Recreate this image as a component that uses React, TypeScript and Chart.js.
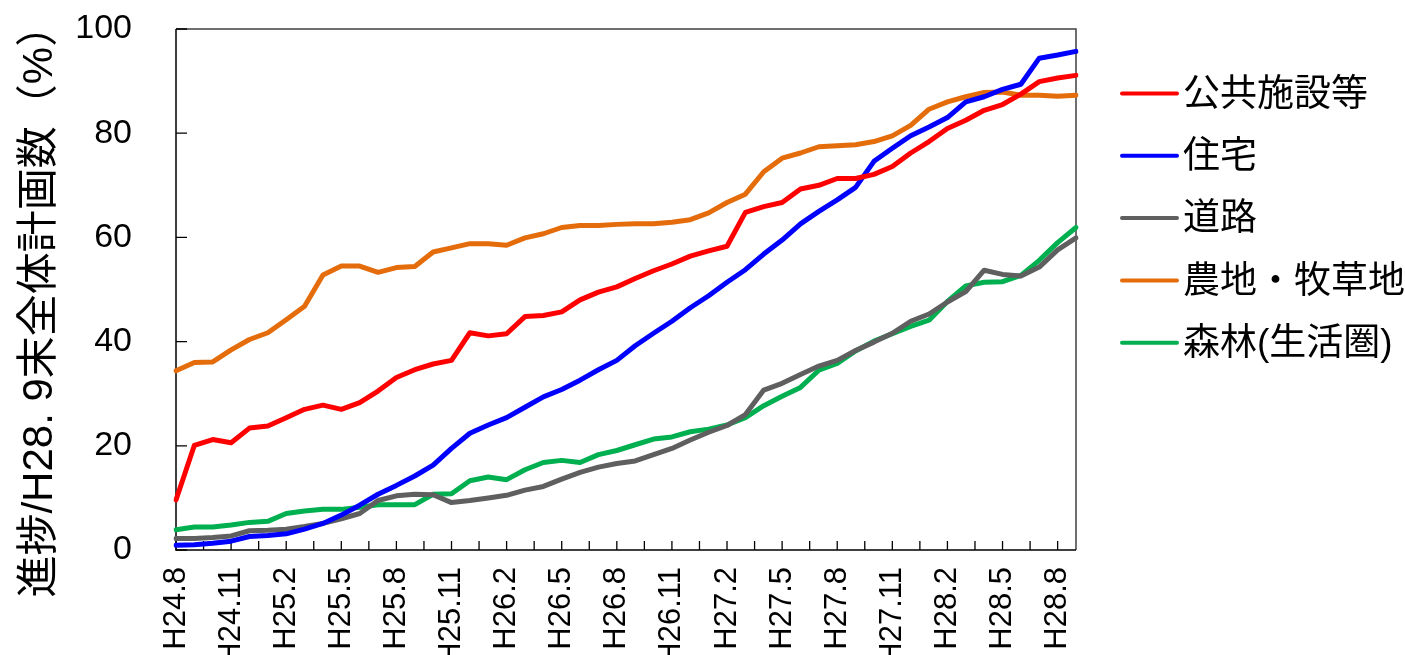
import React, { useEffect, useRef } from "react";
import { Chart, registerables } from "chart.js";

Chart.register(...registerables);

const months = [
  "H24.8", "H24.9", "H24.10", "H24.11", "H24.12",
  "H25.1", "H25.2", "H25.3", "H25.4", "H25.5", "H25.6", "H25.7", "H25.8", "H25.9", "H25.10", "H25.11", "H25.12",
  "H26.1", "H26.2", "H26.3", "H26.4", "H26.5", "H26.6", "H26.7", "H26.8", "H26.9", "H26.10", "H26.11", "H26.12",
  "H27.1", "H27.2", "H27.3", "H27.4", "H27.5", "H27.6", "H27.7", "H27.8", "H27.9", "H27.10", "H27.11", "H27.12",
  "H28.1", "H28.2", "H28.3", "H28.4", "H28.5", "H28.6", "H28.7", "H28.8", "H28.9",
];

const publicFacilities = [
  9.6, 20.1, 21.2, 20.6, 23.4, 23.8, 25.4, 27.0, 27.8, 27.0,
  28.3, 30.5, 33.1, 34.6, 35.7, 36.4, 41.7, 41.1, 41.5, 44.8,
  45.0, 45.7, 48.0, 49.5, 50.5, 52.1, 53.6, 54.9, 56.4, 57.4,
  58.3, 64.8, 65.9, 66.7, 69.3, 70.0, 71.3, 71.3, 72.1, 73.6,
  76.2, 78.4, 80.9, 82.5, 84.4, 85.5, 87.5, 89.9, 90.6, 91.1,
];

const housing = [
  0.9, 1.0, 1.3, 1.7, 2.6, 2.8, 3.1, 4.0, 5.1, 6.7,
  8.6, 10.7, 12.4, 14.2, 16.3, 19.5, 22.4, 24.0, 25.4, 27.4,
  29.4, 30.8, 32.6, 34.6, 36.4, 39.2, 41.6, 43.9, 46.5, 48.8,
  51.4, 53.8, 56.8, 59.5, 62.6, 65.0, 67.2, 69.6, 74.6, 77.1,
  79.5, 81.2, 83.0, 86.0, 87.0, 88.4, 89.4, 94.4, 95.0, 95.7,
];

const roads = [
  2.2, 2.2, 2.4, 2.7, 3.7, 3.8, 4.0, 4.5, 5.1, 6.0,
  7.0, 9.5, 10.4, 10.7, 10.6, 9.1, 9.5, 10.0, 10.5, 11.5,
  12.2, 13.6, 14.9, 15.9, 16.6, 17.1, 18.3, 19.5, 21.1, 22.6,
  23.9, 26.0, 30.7, 32.0, 33.7, 35.3, 36.4, 38.3, 39.9, 41.6,
  43.9, 45.3, 47.6, 49.6, 53.7, 52.9, 52.6, 54.3, 57.6, 59.9,
];

const farmland = [
  34.4, 36.0, 36.1, 38.4, 40.4, 41.7, 44.2, 46.8, 52.8, 54.5,
  54.5, 53.3, 54.2, 54.4, 57.2, 58.0, 58.8, 58.8, 58.5, 59.9,
  60.7, 61.9, 62.3, 62.3, 62.5, 62.6, 62.6, 62.9, 63.4, 64.7,
  66.7, 68.3, 72.6, 75.2, 76.2, 77.4, 77.6, 77.8, 78.4, 79.5,
  81.5, 84.6, 86.0, 87.0, 87.8, 87.9, 87.3, 87.3, 87.1, 87.3,
];

const forest = [
  3.9, 4.4, 4.4, 4.8, 5.3, 5.5, 7.0, 7.5, 7.8, 7.8,
  8.2, 8.7, 8.7, 8.7, 10.7, 10.8, 13.3, 14.0, 13.5, 15.4,
  16.8, 17.2, 16.8, 18.3, 19.1, 20.2, 21.3, 21.7, 22.7, 23.2,
  24.0, 25.4, 27.7, 29.5, 31.2, 34.5, 35.8, 38.2, 40.1, 41.5,
  42.9, 44.1, 47.7, 50.7, 51.4, 51.5, 52.7, 55.6, 59.0, 61.9,
];

const seriesNames = ["公共施設等", "住宅", "道路", "農地・牧草地", "森林(生活圏)"];
const seriesValues = [publicFacilities, housing, roads, farmland, forest];
const seriesColors = ["#FF0000", "#0000FF", "#5F5F5F", "#E46C0A", "#00B050"];

const yTicks = [0, 20, 40, 60, 80, 100];
const xTickMarkStep = 1.5;
const yTitle = "進捗/H28. 9末全体計画数（%）  ";

const LATIN = "'Liberation Sans', Arial, 'Noto Sans CJK JP', sans-serif";
const CJK = "'Liberation Sans', 'Noto Sans CJK JP', sans-serif";

const framePlugin = {
  id: "frameAndTicks",
  beforeDatasetsDraw(chart: any) {
    const { ctx, chartArea } = chart;
    const { left, right, top, bottom } = chartArea;
    const xs = chart.scales.x;
    const ys = chart.scales.y;
    ctx.save();
    ctx.lineWidth = 1.5;
    ctx.strokeStyle = "#404040";
    ctx.beginPath();
    ctx.moveTo(left, top);
    ctx.lineTo(right, top);
    ctx.lineTo(right, bottom);
    ctx.stroke();
    ctx.strokeStyle = "#000000";
    ctx.beginPath();
    ctx.moveTo(left, top);
    ctx.lineTo(left, bottom);
    ctx.lineTo(right, bottom);
    ctx.stroke();
    ctx.lineWidth = 1.3;
    ctx.beginPath();
    const maxIdx = months.length - 1;
    for (let v = 0; v <= maxIdx + 1e-6; v += xTickMarkStep) {
      const px = xs.getPixelForValue(v);
      ctx.moveTo(px, bottom);
      ctx.lineTo(px, bottom - 9);
    }
    for (const t of yTicks) {
      const py = ys.getPixelForValue(t);
      ctx.moveTo(left, py);
      ctx.lineTo(left + 11, py);
    }
    ctx.stroke();
    ctx.restore();
  },
  afterDraw(chart: any) {
    const { ctx, chartArea } = chart;
    ctx.save();
    const x0 = chartArea.right + 46;
    const x1 = x0 + 55;
    chart.data.datasets.forEach((ds: any, i: number) => {
      const y = chartArea.top + 64.5 + i * 62.3;
      ctx.strokeStyle = ds.borderColor;
      ctx.lineWidth = 4;
      ctx.lineCap = "round";
      ctx.beginPath();
      ctx.moveTo(x0, y);
      ctx.lineTo(x1, y);
      ctx.stroke();
      ctx.fillStyle = "#000000";
      ctx.font = `37px ${CJK}`;
      ctx.textAlign = "left";
      ctx.textBaseline = "middle";
      ctx.fillText(ds.label, x1 + 6, y + 2);
    });
    ctx.restore();
  },
};

export default function App() {
  const canvasRef = useRef<HTMLCanvasElement | null>(null);

  useEffect(() => {
    document.body.style.margin = "0";
    const canvas = canvasRef.current;
    if (!canvas) return;
    const chart = new Chart(canvas, {
      type: "line",
      data: {
        labels: months,
        datasets: seriesNames.map((name, i) => ({
          label: name,
          data: seriesValues[i],
          borderColor: seriesColors[i],
          backgroundColor: seriesColors[i],
          borderWidth: 5,
          pointRadius: 0,
          tension: 0,
          borderJoinStyle: "round" as const,
          borderCapStyle: "round" as const,
          fill: false,
        })),
      },
      options: {
        animation: false,
        responsive: true,
        maintainAspectRatio: false,
        layout: { padding: { top: 29, right: 329, left: 0, bottom: 0 } },
        plugins: {
          legend: { display: false },
          tooltip: { enabled: false },
        },
        scales: {
          x: {
            type: "category",
            offset: false,
            grid: { display: false, drawTicks: false },
            border: { display: false },
            ticks: {
              autoSkip: false,
              maxRotation: 90,
              minRotation: 90,
              padding: 17,
              color: "#000000",
              font: { family: LATIN, size: 31 },
              callback: (_v: any, idx: number) => (idx % 3 === 0 ? months[idx] : ""),
            },
            afterFit: (s: any) => {
              s.height = 105;
            },
          },
          y: {
            min: 0,
            max: 100,
            grid: { display: false, drawTicks: false },
            border: { display: false },
            ticks: {
              stepSize: 20,
              padding: 44,
              color: "#000000",
              font: { family: LATIN, size: 34 },
            },
            title: {
              display: true,
              text: yTitle,
              color: "#000000",
              font: { family: CJK, size: 42 },
              padding: { top: 15, bottom: 0 },
            },
            afterFit: (s: any) => {
              s.width = 176;
              s.paddingTop = 0;
              s.paddingBottom = 0;
            },
          },
        },
      },
      plugins: [framePlugin],
    });
    return () => chart.destroy();
  }, []);

  return (
    <div style={{ position: "relative", width: "1405px", height: "655px" }}>
      <canvas ref={canvasRef} />
    </div>
  );
}
